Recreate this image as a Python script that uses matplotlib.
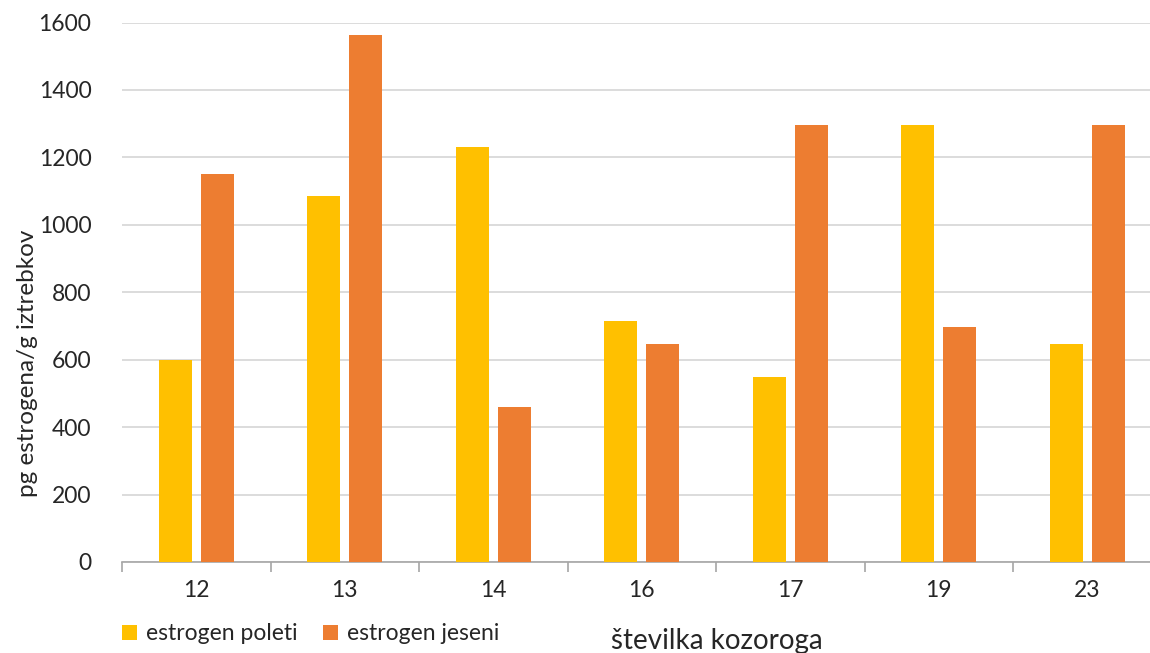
import matplotlib
matplotlib.use("Agg")
import matplotlib.pyplot as plt
import numpy as np
from matplotlib.ticker import FixedLocator

plt.rcParams['font.family'] = ['Lato', 'DejaVu Sans']

categories = ["12", "13", "14", "16", "17", "19", "23"]
poleti = [600, 1085, 1232, 715, 550, 1297, 648]
jeseni = [1150, 1563, 460, 648, 1297, 698, 1297]
series_names = ["estrogen poleti", "estrogen jeseni"]
colors = ["#FFC000", "#ED7D31"]

fig = plt.figure(figsize=(11.5, 6.53), dpi=100)
ax = fig.add_axes([122 / 1150, 91 / 653, 1039.5 / 1150, 539.5 / 653])

x = np.arange(len(categories))
width = 0.222
offset = 0.141
b1 = ax.bar(x - offset, poleti, width, color=colors[0], label=series_names[0], zorder=3)
b2 = ax.bar(x + offset, jeseni, width, color=colors[1], label=series_names[1], zorder=3)

ax.set_xlim(-0.5, len(categories) - 0.5)
ax.set_ylim(0, 1600)
ax.set_yticks(np.arange(0, 1601, 200))
ax.yaxis.grid(True, color="#d9d9d9", linewidth=1.3, zorder=0)
ax.set_axisbelow(True)

for s in ["top", "right", "left"]:
    ax.spines[s].set_visible(False)
ax.spines["bottom"].set_color("#a6a6a6")
ax.spines["bottom"].set_linewidth(1.2)

ax.set_xticks(x)
ax.set_xticklabels(categories)
ax.xaxis.set_minor_locator(FixedLocator(np.arange(-0.5, len(categories), 1.0)))
ax.tick_params(axis="x", which="major", length=0, pad=13, labelsize=16.5, labelcolor="#262626")
ax.tick_params(axis="x", which="minor", length=7, width=1.2, color="#a6a6a6")
ax.tick_params(axis="y", length=0, pad=22, labelsize=16.5, labelcolor="#262626")

fig.text(28 / 1150, 290 / 653, "pg estrogena/g iztrebkov", rotation=90,
         ha="center", va="center", fontsize=17.5, color="#262626")
fig.text(717 / 1150, 1 - 641 / 653, "številka kozoroga", ha="center", va="center",
         fontsize=20, color="#262626")

leg = fig.legend(handles=[b1, b2], labels=series_names, loc="center left",
                 bbox_to_anchor=(122 / 1150, 1 - 634 / 653), ncol=2, frameon=False,
                 fontsize=16.5, handlelength=0.65, handleheight=0.65, handletextpad=0.4,
                 columnspacing=1.1, labelcolor="#262626",
                 borderaxespad=0, borderpad=0)

fig.savefig("out.png", dpi=100)
